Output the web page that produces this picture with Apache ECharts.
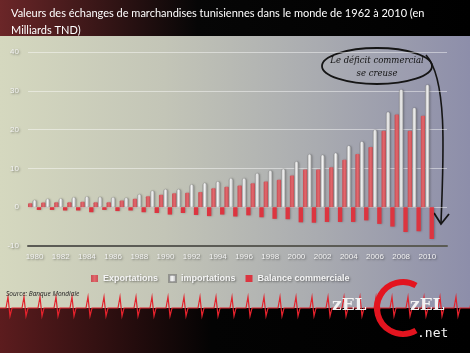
<!DOCTYPE html>
<html lang="fr">
<head>
<meta charset="UTF-8">
<title>Échanges de marchandises tunisiennes</title>
<script src="https://cdn.jsdelivr.net/npm/echarts@6/dist/echarts.min.js"></script>
<style>
    html, body { margin: 0; padding: 0; }
    #main { width: 470px; height: 353px;
        background: linear-gradient(90deg, #d5d8bf 0%, #c3c5b7 35%, #a9abb0 68%, #8d8eaa 100%); }
</style>
</head>
<body>
<div id="main"></div>

<script type="text/javascript">
    // années (la dernière case est vide, comme sur l'original)
    var annees = ['1980','1981','1982','1983','1984','1985','1986','1987','1988','1989',
        '1990','1991','1992','1993','1994','1995','1996','1997','1998','1999',
        '2000','2001','2002','2003','2004','2005','2006','2007','2008','2009','2010',''];

    // en milliards TND
    var exportations = [1.0, 1.2, 1.3, 1.3, 1.4, 1.3, 1.3, 1.7, 2.2, 2.8,
        3.2, 3.6, 3.7, 3.9, 4.9, 5.3, 5.6, 6.2, 6.6, 7.1,
        8.2, 9.7, 9.7, 10.3, 12.2, 13.7, 15.5, 19.7, 23.9, 19.7, 23.6, null];
    var importations = [1.9, 2.2, 2.3, 2.6, 2.8, 2.7, 2.6, 2.5, 3.4, 4.3,
        4.7, 4.7, 5.9, 6.3, 6.7, 7.5, 7.5, 8.8, 9.5, 9.9,
        11.8, 13.7, 13.5, 14.0, 15.9, 17.0, 20.0, 24.6, 30.4, 25.7, 31.6, null];
    var balance = [-0.7, -0.7, -0.85, -0.85, -1.3, -0.7, -1.0, -0.85, -1.3, -1.5,
        -1.9, -1.5, -2.0, -2.3, -1.9, -2.4, -2.1, -2.6, -3.0, -3.1,
        -3.9, -4.0, -3.8, -3.8, -3.8, -3.4, -4.3, -5.0, -6.4, -6.2, -8.2, null];

    var myChart = echarts.init(document.getElementById('main'));

    // ligne "électrocardiogramme" du bandeau du bas (décor)
    var ecg = [];
    for (var x = 0; x <= 470; x += 16) {
        ecg.push([x, 308], [x + 6, 308], [x + 8, 297], [x + 10, 316], [x + 12, 308]);
    }

    var txtShadow = { textShadowColor: 'rgba(0,0,0,0.45)', textShadowBlur: 2, textShadowOffsetX: 1, textShadowOffsetY: 1 };

    option = {
        animation: false,
        title: {
            text: 'Valeurs des échanges de marchandises tunisiennes dans le monde de 1962 à 2010 (en\nMilliards TND)',
            left: 6, top: 0,
            textStyle: { color: '#ffffff', fontSize: 11, fontWeight: 'normal', fontFamily: 'Lato', lineHeight: 17 }
        },
        legend: {
            left: 86, top: 269,
            itemWidth: 7, itemHeight: 7, itemGap: 10,
            icon: 'rect',
            textStyle: Object.assign({ color: '#f4f4f4', fontSize: 9, fontWeight: 'bold', fontFamily: 'Liberation Sans' }, txtShadow),
            data: ['Exportations', 'importations', 'Balance commerciale']
        },
        grid: { left: 28, right: 23, top: 52, bottom: 107 },
        xAxis: {
            type: 'category',
            data: annees,
            axisTick: { show: false },
            axisLine: { onZero: false, lineStyle: { color: '#5b5b55', width: 2 } },
            axisLabel: Object.assign({ interval: 1, color: '#f2f2f2', fontSize: 8, margin: 7, fontFamily: 'Liberation Sans' }, txtShadow)
        },
        yAxis: {
            type: 'value',
            min: -10, max: 40, interval: 10,
            axisLine: { show: false },
            axisTick: { show: false },
            axisLabel: Object.assign({ color: '#f2f2f2', fontSize: 8, margin: 9, fontFamily: 'Liberation Sans' }, txtShadow),
            splitLine: { lineStyle: { color: 'rgba(255,255,255,0.45)', width: 1 } }
        },
        series: [{
            name: 'Exportations',
            type: 'bar',
            data: exportations,
            barGap: '0%', barCategoryGap: '0%',
            itemStyle: {
                color: new echarts.graphic.LinearGradient(0, 0, 1, 0, [
                    { offset: 0, color: '#c84c53' }, { offset: 0.5, color: '#e2676c' }, { offset: 1, color: '#cc4f56' }]),
                borderRadius: [1, 1, 0, 0],
                shadowColor: 'rgba(0,0,0,0.25)', shadowBlur: 2, shadowOffsetX: 1
            }
        }, {
            name: 'importations',
            type: 'bar',
            data: importations,
            barGap: '0%', barCategoryGap: '0%',
            itemStyle: {
                color: new echarts.graphic.LinearGradient(0, 0, 1, 0, [
                    { offset: 0, color: '#a4a4a4' }, { offset: 0.45, color: '#f8f8f8' }, { offset: 1, color: '#ababab' }]),
                borderColor: 'rgba(90,90,90,0.45)', borderWidth: 0.4,
                borderRadius: [2, 2, 0, 0],
                shadowColor: 'rgba(0,0,0,0.25)', shadowBlur: 2, shadowOffsetX: 1
            }
        }, {
            name: 'Balance commerciale',
            type: 'bar',
            data: balance,
            barGap: '0%', barCategoryGap: '0%',
            itemStyle: {
                color: '#dc3540',
                shadowColor: 'rgba(0,0,0,0.25)', shadowBlur: 2, shadowOffsetX: 1
            }
        }],
        graphic: [
            // bandeau du titre
            { type: 'rect', z: -1, shape: { x: 0, y: 0, width: 470, height: 36 },
              style: { fill: new echarts.graphic.LinearGradient(0, 0, 1, 0, [
                  { offset: 0, color: '#6b2628' }, { offset: 0.42, color: '#060606' }, { offset: 1, color: '#000' }]) } },
            // bandeau du bas
            { type: 'rect', z: -1, shape: { x: 0, y: 308, width: 470, height: 45 },
              style: { fill: new echarts.graphic.LinearGradient(0, 0, 1, 0, [
                  { offset: 0, color: '#5c1c1e' }, { offset: 0.45, color: '#030303' }, { offset: 1, color: '#000' }]) } },
            { type: 'polyline', shape: { points: ecg }, style: { stroke: '#e3222c', lineWidth: 1.2, fill: null } },
            // source
            { type: 'text', left: 6, top: 291,
              style: { text: 'Source: Banque Mondiale', fill: '#222', font: 'italic 6.5px "Open Sans"' } },
            // bulle + flèche
            { type: 'ellipse', shape: { cx: 377, cy: 66, rx: 55, ry: 18 },
              style: { fill: 'rgba(255,255,255,0.04)', stroke: '#151515', lineWidth: 1.8 } },
            { type: 'text', x: 377, y: 61,
              style: { text: 'Le déficit commercial', fill: '#111', font: 'italic 8.5px "DejaVu Serif"', align: 'center', verticalAlign: 'middle' } },
            { type: 'text', x: 377, y: 74,
              style: { text: 'se creuse', fill: '#111', font: 'italic 8.5px "DejaVu Serif"', align: 'center', verticalAlign: 'middle' } },
            { type: 'bezierCurve', shape: { x1: 426, y1: 55, cpx1: 447, cpy1: 78, cpx2: 444, cpy2: 150, x2: 441, y2: 223 },
              style: { stroke: '#151515', lineWidth: 1.6, fill: null } },
            { type: 'polyline', shape: { points: [[434, 213], [441, 224], [449, 214]] },
              style: { stroke: '#151515', lineWidth: 1.8, fill: null } },
            // logo
            { type: 'arc', shape: { cx: 403, cy: 308, r: 26, startAngle: -Math.PI / 3, endAngle: Math.PI / 3, clockwise: false },
              style: { stroke: '#e3141f', lineWidth: 6, fill: null } },
            { type: 'text', x: 332, y: 306,
              style: { text: 'zEL', fill: '#f2f2f2', font: 'bold 17px "DejaVu Serif"', verticalAlign: 'middle' } },
            { type: 'text', x: 410, y: 306,
              style: { text: 'zEL', fill: '#f2f2f2', font: 'bold 17px "DejaVu Serif"', verticalAlign: 'middle' } },
            { type: 'text', x: 417, y: 334,
              style: { text: '.net', fill: '#f2f2f2', font: '13px "DejaVu Sans Mono"', verticalAlign: 'middle' } }
        ]
    };

    myChart.setOption(option);
</script>
</body>
</html>
